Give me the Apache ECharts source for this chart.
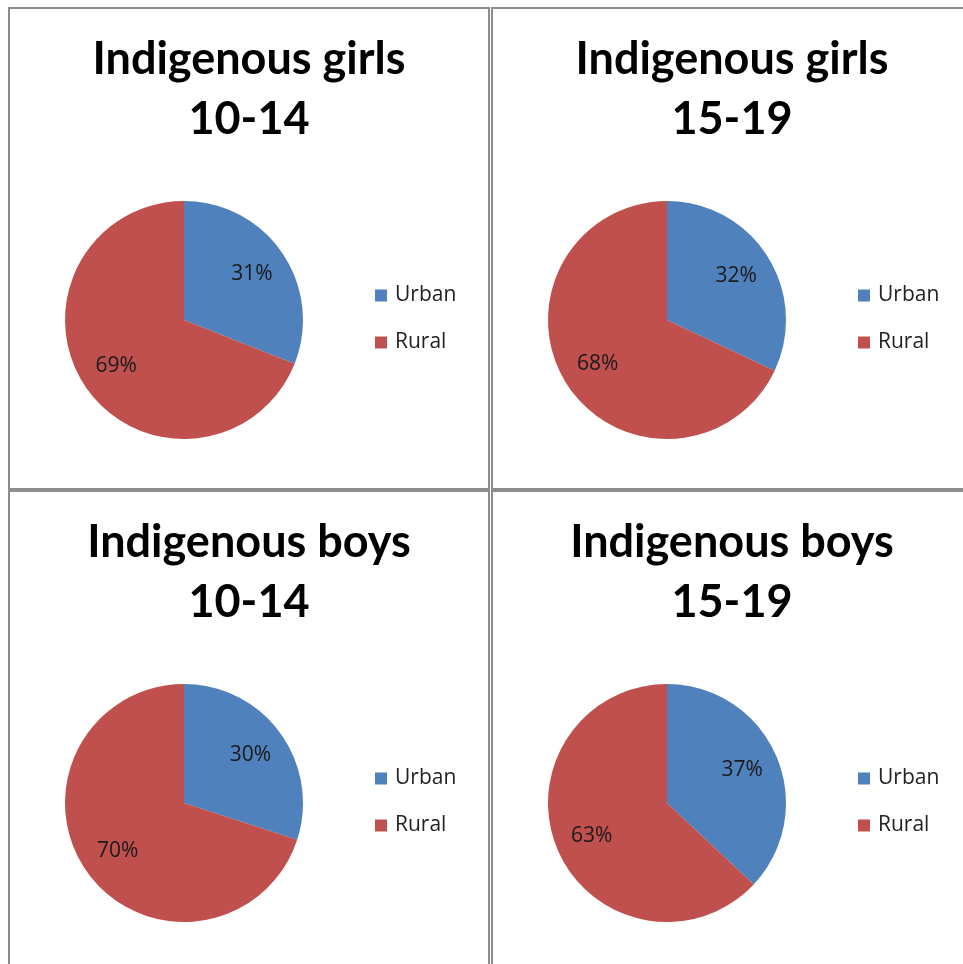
<!DOCTYPE html>
<html>
<head>
<meta charset="utf-8">
<script src="https://cdn.jsdelivr.net/npm/echarts@6/dist/echarts.min.js"></script>
<style>
html,body{margin:0;padding:0;background:#fff;}
#chart{width:963px;height:964px;}
</style>
</head>
<body>
<div id="chart"></div>
<script>
const panelTitles = ['Indigenous girls\n10-14', 'Indigenous girls\n15-19', 'Indigenous boys\n10-14', 'Indigenous boys\n15-19'];
const categories = ['Urban', 'Rural'];
const urbanShare = [31, 32, 30, 37];
const ruralShare = [69, 68, 70, 63];
const colors = ['#4F81BD', '#C0504D'];

const FONT = 'Lato';
const SMALL = 'Open Sans';
const panelX = [9, 492, 9, 492];
const panelY = [8, 8, 491, 491];
const PW = 480;

const chart = echarts.init(document.getElementById('chart'));
const titles = [], legends = [], series = [], graphics = [];
for (let i = 0; i < 4; i++) {
  const px = panelX[i], py = panelY[i];
  const cx = px + 175, cy = py + 312;
  graphics.push({
    type: 'rect', shape: {x: px, y: py, width: PW, height: 481},
    style: {fill: 'none', stroke: '#8c8c8c', lineWidth: 2}, silent: true, z: 100
  });
  titles.push({
    text: panelTitles[i], left: px + PW / 2 - 5, top: py + 16, textAlign: 'center',
    textStyle: {fontFamily: FONT, fontWeight: 'bold', fontSize: 45, lineHeight: 60, color: '#000'}
  });
  legends.push({
    orient: 'vertical', left: px + 361, top: py + 272, data: categories,
    icon: 'rect', itemWidth: 12, itemHeight: 12, itemGap: 26, selectedMode: false,
    textStyle: {fontFamily: SMALL, fontSize: 21, color: '#222', padding: [0, 0, 0, 3]}
  });
  const data = [
    {name: categories[0], value: urbanShare[i], itemStyle: {color: colors[0]}},
    {name: categories[1], value: ruralShare[i], itemStyle: {color: colors[1]}}
  ];
  series.push({
    type: 'pie', center: [cx, cy], radius: [0, 119], startAngle: 90, clockwise: true,
    legendIndex: i, data: data, label: {show: false}, labelLine: {show: false},
    silent: true, animation: false
  });
  // label carrier: transparent pie so labels sit at ~2/3 radius
  series.push({
    type: 'pie', center: [cx, cy], radius: [0, 158], startAngle: 90, clockwise: true,
    data: data.map(d => ({name: d.name, value: d.value, itemStyle: {color: 'rgba(0,0,0,0)'}})),
    label: {show: true, position: 'inside', formatter: '{c}%', fontFamily: SMALL, fontSize: 21, color: '#1a1a1a'},
    labelLine: {show: false}, silent: true, animation: false, z: 3
  });
}
chart.setOption({
  animation: false,
  title: titles,
  legend: legends,
  series: series,
  graphic: graphics
});
</script>
</body>
</html>
